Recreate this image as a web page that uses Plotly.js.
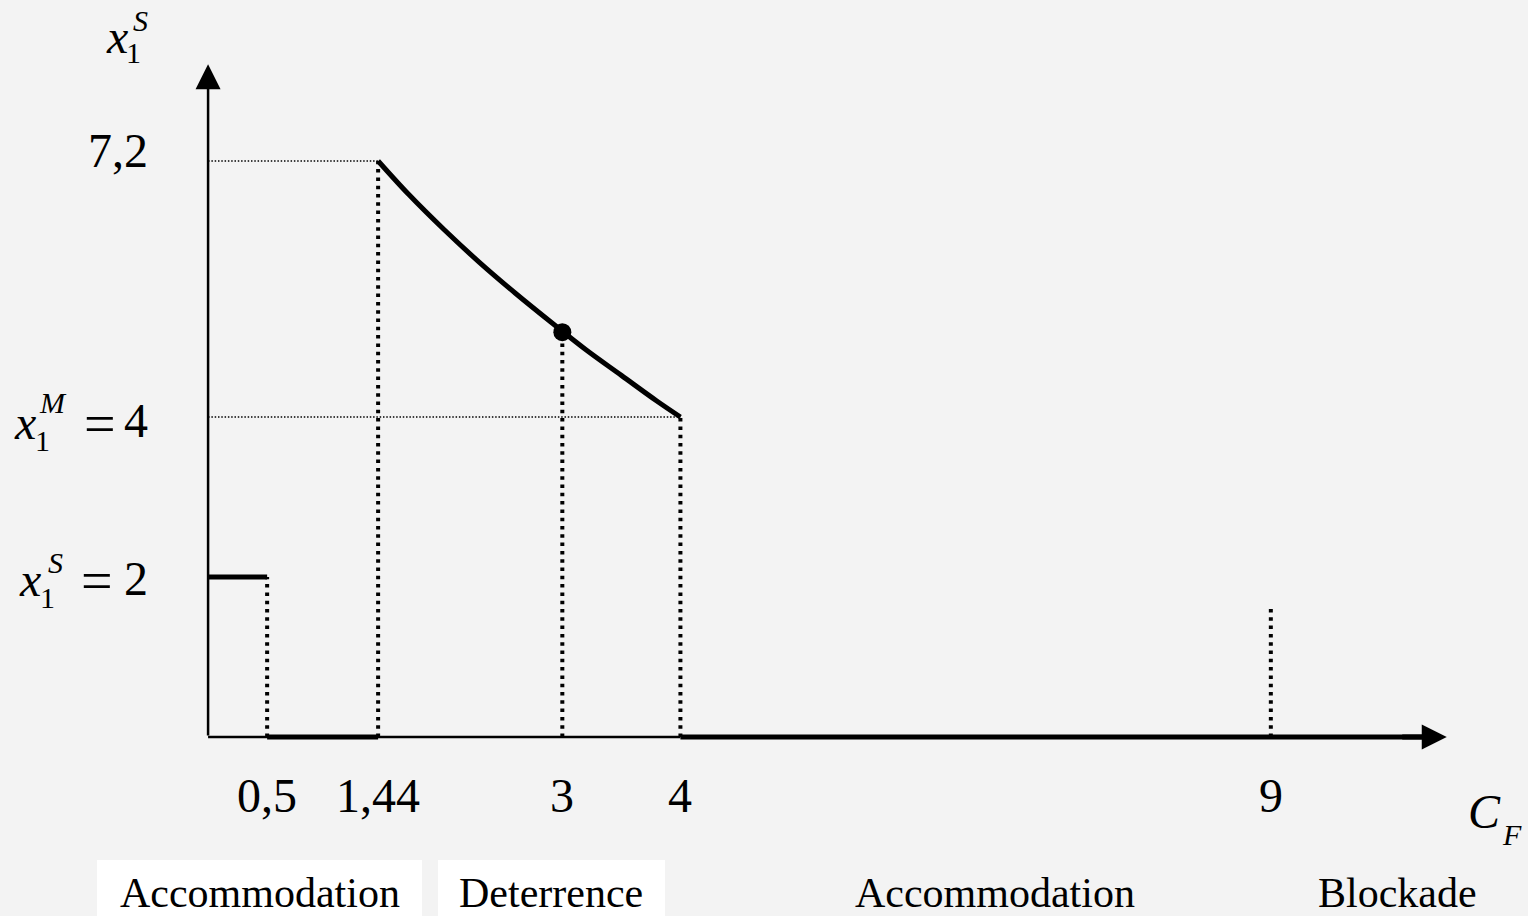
<!DOCTYPE html>
<html>
<head>
<meta charset="utf-8">
<script src="https://cdn.plot.ly/plotly-3.0.1.min.js"></script>
<style>
  html, body { margin: 0; padding: 0; background: #f3f3f3; }
  #chart { width: 1528px; height: 916px; }
</style>
</head>
<body>
<div id="chart"></div>
<script>
// ---- data ----
const stepX = [0, 0.5];            // x1^S = 2 segment
const stepY = [2, 2];
const zeroX = [0.5, 1.44];         // zero output segment
const zeroY = [0, 0];
const curveX = [1.44, 1.7, 2.0, 2.3, 2.6, 2.9, 3.2, 3.5, 3.8, 4.0];   // deterrence curve
const curveY = [7.2, 6.78, 6.34, 5.93, 5.55, 5.19, 4.84, 4.52, 4.2, 4.0];
const tailX = [4, 10.3];           // zero segment to axis end
const tailY = [0, 0];
const dotX = [3];
const dotY = [5.06];
const guideX = [0.5, 1.44, 3, 4, 9];      // vertical dotted guides
const guideTop = [2, 7.2, 5.0, 4, 1.6];
const hGuideY = [7.2, 4];                  // horizontal thin dotted guides
const hGuideEnd = [1.44, 4];
const tickValues = [0.5, 1.44, 3, 4, 9];
const tickLabels = ['0,5', '1,44', '3', '4', '9'];
const regionLabels = ['Accommodation', 'Deterrence', 'Accommodation', 'Blockade'];
const regionCentersPx = [260, 551, 995, 1397];
const yAxisTop = 8.41;
const xAxisEnd = 10.49;

// ---- layout geometry helpers (pixel -> paper) ----
const L = 90, R = 21, T = 17, B = 19, W = 1528, H = 916;
const PW = W - L - R, PH = H - T - B;
const PX = px => (px - L) / PW;
const PY = py => (H - B - py) / PH;

const FONT = 'Liberation Serif, Times New Roman, serif';
const BLACK = '#000000';

const traces = [];
traces.push({x: stepX, y: stepY, mode: 'lines', line: {color: BLACK, width: 5}, hoverinfo: 'skip'});
traces.push({x: zeroX, y: zeroY, mode: 'lines', line: {color: BLACK, width: 5}, hoverinfo: 'skip'});
traces.push({x: tailX, y: tailY, mode: 'lines', line: {color: BLACK, width: 5}, hoverinfo: 'skip'});
traces.push({x: curveX, y: curveY, mode: 'lines', line: {color: BLACK, width: 5, shape: 'spline', smoothing: 1}, hoverinfo: 'skip'});
guideX.forEach((gx, i) => {
  traces.push({x: [gx, gx], y: [0, guideTop[i]], mode: 'lines',
    line: {color: BLACK, width: 4, dash: '3.5px,4.8px'}, hoverinfo: 'skip'});
});
hGuideY.forEach((gy, i) => {
  traces.push({x: [0, hGuideEnd[i]], y: [gy, gy], mode: 'lines',
    line: {color: '#000000', width: 1.4, dash: '1.5px,1.8px'}, hoverinfo: 'skip'});
});
traces.push({x: dotX, y: dotY, mode: 'markers', marker: {color: BLACK, size: 18}, hoverinfo: 'skip', cliponaxis: false});

const annotations = [];
// y axis with arrow
annotations.push({x: 0, y: yAxisTop, ax: 0, ay: 0, xref: 'x', yref: 'y', axref: 'x', ayref: 'y',
  showarrow: true, arrowhead: 2, arrowwidth: 2.5, arrowsize: 2, arrowcolor: BLACK, text: ''});
// x axis arrow head
annotations.push({x: xAxisEnd, y: 0, ax: 10.1, ay: 0, xref: 'x', yref: 'y', axref: 'x', ayref: 'y',
  showarrow: true, arrowhead: 2, arrowwidth: 5, arrowsize: 1, arrowcolor: BLACK, text: ''});

function txt(s, px, py, size, italic) {
  annotations.push({text: italic ? '<i>' + s + '</i>' : s, x: PX(px), y: PY(py), xref: 'paper', yref: 'paper',
    xanchor: 'center', yanchor: 'middle', showarrow: false,
    font: {family: FONT, size: size, color: BLACK}});
}
// tick labels
tickValues.forEach((v, i) => {
  const px = L + (v + 1) / 12 * PW;
  txt(tickLabels[i], px, 795, 48, false);
});
// y labels
txt('7,2', 118, 151, 48, false);
// x1^M = 4
txt('x', 25, 422, 48, true); txt('M', 53, 403, 30, true); txt('1', 42, 440, 30, false);
txt('=', 100, 424, 56, false); txt('4', 136, 420, 48, false);
// x1^S = 2
txt('x', 30, 579, 48, true); txt('S', 55, 562, 30, true); txt('1', 47, 597, 30, false);
txt('=', 97, 581, 56, false); txt('2', 136, 578, 48, false);
// axis titles
txt('x', 117, 37, 48, true); txt('S', 140, 20, 30, true); txt('1', 133, 52, 30, false);
txt('C', 1484, 811, 48, true); txt('F', 1512, 834, 30, true);
// region labels
regionLabels.forEach((s, i) => txt(s, regionCentersPx[i], 893, 42, false));

const shapes = [
  // thin x axis part
  {type: 'line', xref: 'x', yref: 'y', x0: 0, x1: 4, y0: 0, y1: 0, line: {color: BLACK, width: 2.5}, layer: 'below'},
  // white boxes behind the first two labels
  {type: 'rect', xref: 'paper', yref: 'paper', x0: PX(97), x1: PX(422), y0: PY(916), y1: PY(860),
    fillcolor: '#ffffff', line: {width: 0}, layer: 'below'},
  {type: 'rect', xref: 'paper', yref: 'paper', x0: PX(438), x1: PX(665), y0: PY(916), y1: PY(860),
    fillcolor: '#ffffff', line: {width: 0}, layer: 'below'}
];

const layout = {
  width: W, height: H,
  margin: {l: L, r: R, t: T, b: B, pad: 0},
  paper_bgcolor: '#f3f3f3', plot_bgcolor: '#f3f3f3',
  showlegend: false,
  xaxis: {range: [-1, 11], visible: false, fixedrange: true},
  yaxis: {range: [-2, 9], visible: false, fixedrange: true},
  annotations: annotations,
  shapes: shapes
};

Plotly.newPlot('chart', traces, layout, {displayModeBar: false, staticPlot: true});
</script>
</body>
</html>
